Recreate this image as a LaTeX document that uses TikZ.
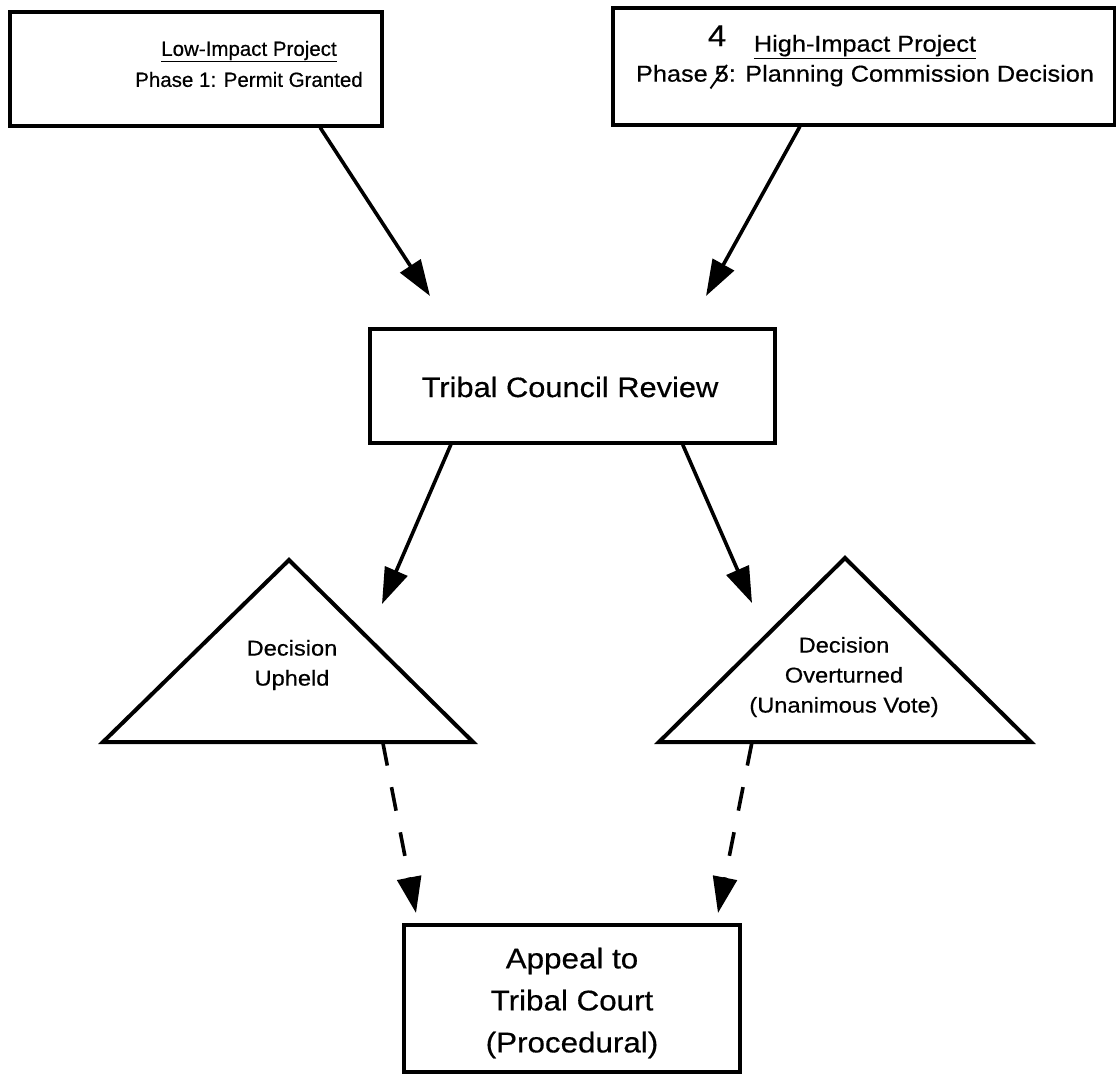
\documentclass[tikz,border=0pt]{standalone}
\usepackage{fontspec}
\setmainfont{Liberation Sans}[FakeStretch=1.1, FakeBold=0.5]
\newfontfamily\narrowsans{Liberation Sans}[FakeBold=0.5]
\usetikzlibrary{arrows.meta,calc}

% a struck-through digit, as corrected by hand
\newcommand\strikedigit[1]{\rlap{#1}\hspace{-0.22em}\raisebox{-0.32em}{\rlap{\rotatebox{55}{\rule{1.25em}{0.08em}}}}\hspace{0.22em}\phantom{#1}}

\begin{document}
\begin{tikzpicture}[x=1pt,y=-1pt,
  boxframe/.style={draw, line width=3.2pt, inner sep=0pt},
  label/.style={inner sep=0pt, align=center},
  toptext/.style={label, font=\fontsize{23}{30}\selectfont},
  bigtext/.style={label, font=\fontsize{28}{42}\selectfont},
  tritext/.style={label, font=\fontsize{21.5}{30}\selectfont},
  triframe/.style={draw, line width=4pt, line join=miter},
  flow/.style={line width=3.6pt, -{Triangle[length=36pt,width=24pt]}},
  dflow/.style={flow, dash pattern=on 24pt off 22pt},
]
\useasboundingbox (0,0) rectangle (1116,1074);
\fill[white] (0,0) rectangle (1116,1074);

% top row
\node[boxframe, minimum width=372pt, minimum height=114pt] (low) at (196,69) {};
\node[label, font=\narrowsans\fontsize{20.5}{31}\selectfont] (lowtxt) at (249,64) {\underline{Low-Impact Project}\\Phase 1: Permit Granted};

\node[boxframe, minimum width=502pt, minimum height=117pt] (high) at (864,66.5) {};
\node[toptext] (hightxt) at (865,62) {\underline{High-Impact Project}\\Phase \strikedigit{5}: Planning Commission Decision};
\node[label, font=\fontsize{30}{30}\selectfont, anchor=base] (fix) at (717,46) {4};

% council review
\node[boxframe, minimum width=405pt, minimum height=114pt] (council) at (572.5,386) {};
\node[bigtext] (counciltxt) at (570,387) {Tribal Council Review};

% outcomes
\coordinate (upA) at (289,560);
\coordinate (upL) at (103,742);
\coordinate (upR) at (473,742);
\draw[triframe] (upA) -- (upL) -- (upR) -- cycle;
\node[tritext] (upheld) at (292,665) {Decision\\Upheld};

\coordinate (ovA) at (845,558);
\coordinate (ovL) at (659,742);
\coordinate (ovR) at (1031,742);
\draw[triframe] (ovA) -- (ovL) -- (ovR) -- cycle;
\node[tritext] (overturned) at (844,677) {Decision\\Overturned\\(Unanimous Vote)};

% appeal
\node[boxframe, minimum width=336pt, minimum height=147pt] (appeal) at (572,998.5) {};
\node[bigtext, font=\fontsize{28.5}{42}\selectfont] (appealtxt) at (572,1003) {Appeal to\\Tribal Court\\(Procedural)};

% connectors
\coordinate (s1) at ($(low.south west)!0.831!(low.south east)$);
\coordinate (t1) at (430,296);
\draw[flow] (s1) -- (t1);
\coordinate (s2) at ($(high.south west)!0.373!(high.south east)$);
\coordinate (t2) at (706,296);
\draw[flow] (s2) -- (t2);

\coordinate (s3) at ($(council.south west)!0.202!(council.south east)$);
\coordinate (t3) at (382,604);
\draw[flow] (s3) -- (t3);
\coordinate (s4) at ($(council.south west)!0.770!(council.south east)$);
\coordinate (t4) at (752,603);
\draw[flow] (s4) -- (t4);

\coordinate (s5) at ($(upL)!0.756!(upR)$);
\coordinate (t5) at (416,913);
\draw[dflow] (s5) -- (t5);
\coordinate (s6) at ($(ovL)!0.250!(ovR)$);
\coordinate (t6) at (718,913);
\draw[dflow] (s6) -- (t6);
\end{tikzpicture}
\end{document}
